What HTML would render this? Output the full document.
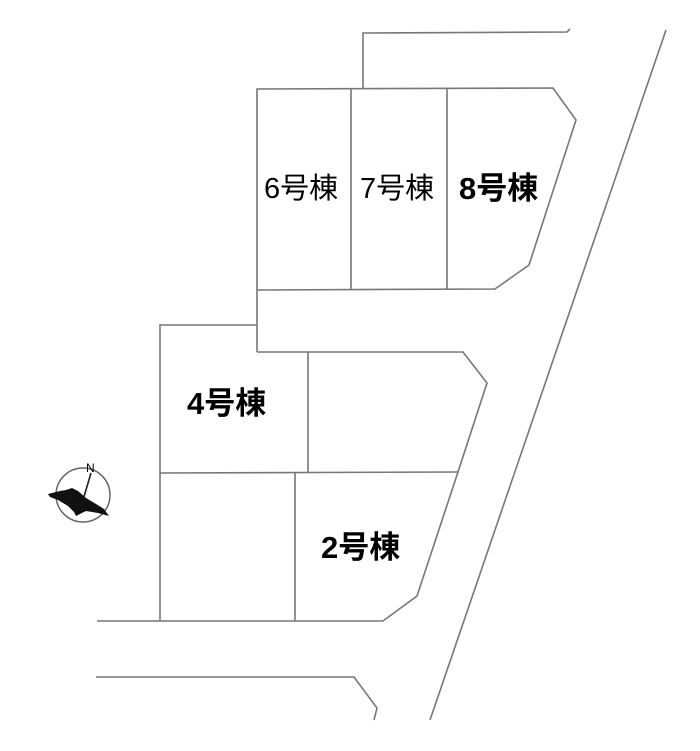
<!DOCTYPE html>
<html><head><meta charset="utf-8"><style>
html,body{margin:0;padding:0;background:#fff;width:700px;height:751px;overflow:hidden}
svg{display:block}
text{font-family:"Liberation Sans","Noto Sans CJK JP",sans-serif;fill:#000}
</style></head><body>
<svg width="700" height="751" viewBox="0 0 700 751" xmlns="http://www.w3.org/2000/svg">
<g fill="none" stroke="#777" stroke-width="1.6">
<polyline points="363,89 363,33 567,32 570,29"/>
<line x1="666" y1="30" x2="430" y2="720"/>
<polyline points="257,352 257,89 553,88 576,120 529,265 495,289 257,290"/>
<line x1="351" y1="89" x2="351" y2="290"/>
<line x1="447" y1="89" x2="447" y2="290"/>
<polyline points="257,325 160,325 160,621"/>
<polyline points="257,352 463,352 487,383 458,472 417,596 383,621 97,621"/>
<line x1="160" y1="473" x2="458" y2="472"/>
<line x1="308" y1="352" x2="308" y2="472"/>
<line x1="295" y1="473" x2="295" y2="621"/>
<polyline points="96,677 354,677 377,708 374,720"/>
</g>
<g>
<circle cx="83" cy="495" r="27" fill="none" stroke="#666" stroke-width="1.5"/>
<line x1="91" y1="473" x2="83" y2="500" stroke="#222" stroke-width="1.6"/>
<text x="86" y="472" font-size="12">N</text>
<path d="M48,494 L60,491 L66,490 L72,488 L78,491 L86,498 L96,504 L104,509 L109,516 L98,513 L86,511 L80,514 L76,516 L74,512 L68,506 L58,500 L50,497 Z" fill="#111"/>
</g>
<text x="264" y="198" font-size="29">6号棟</text>
<text x="360" y="198" font-size="29">7号棟</text>
<text x="459" y="199" font-size="31" font-weight="bold">8号棟</text>
<text x="187" y="414" font-size="31" font-weight="bold">4号棟</text>
<text x="321" y="558" font-size="31" font-weight="bold">2号棟</text>
</svg>
</body></html>
